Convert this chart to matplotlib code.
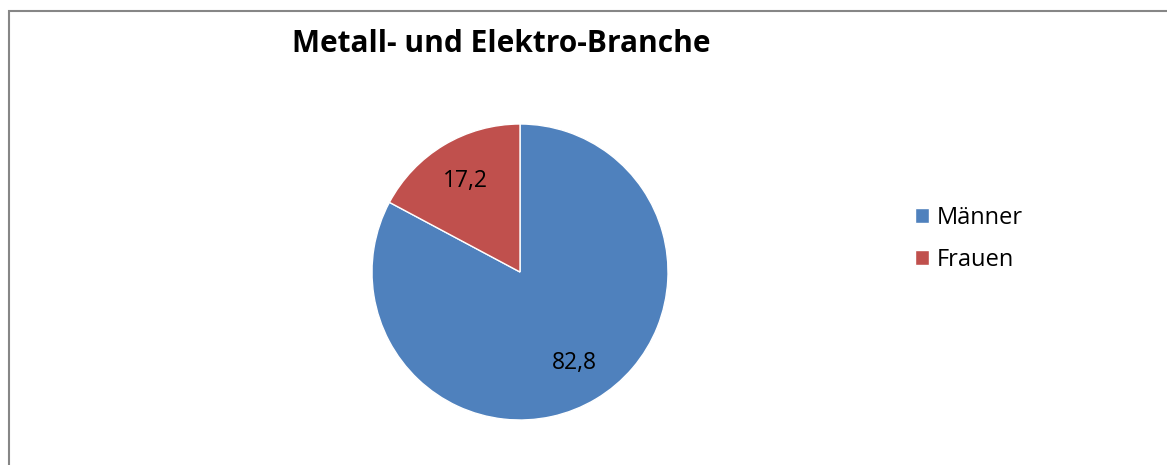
import matplotlib.pyplot as plt
from matplotlib.patches import Rectangle

# Daten
kategorien = ['Männer', 'Frauen']
werte = [82.8, 17.2]
farben = ['#4F81BD', '#C0504D']
titel = 'Metall- und Elektro-Branche'

plt.rcParams['font.family'] = ['Open Sans', 'DejaVu Sans']

fig = plt.figure(figsize=(11.67, 4.65), dpi=100)

# Rahmen um das Diagramm
fig.patches.append(Rectangle((9 / 1167, -0.1), 1.2, (465 - 11) / 465 + 0.1,
                             transform=fig.transFigure, fill=False,
                             edgecolor='#868686', linewidth=1.5))

ax = fig.add_axes([372 / 1167, 45 / 465, 296 / 1167, 296 / 465])
wedges, texts, autotexts = ax.pie(
    werte, colors=farben, startangle=90, counterclock=False,
    wedgeprops=dict(edgecolor='white', linewidth=1),
    autopct=lambda p: f'{p:.1f}'.replace('.', ','), pctdistance=0.72,
    textprops=dict(fontsize=16.5, color='black'))
ax.set_xlim(-1, 1)
ax.set_ylim(-1, 1)
ax.set_aspect('equal')

fig.text(501 / 1167, 1 - 44 / 465, titel, ha='center', va='center',
         fontsize=21.5, fontweight='bold')

fig.legend(wedges, kategorien, loc='center left',
           bbox_to_anchor=(894 / 1167, 1 - 239 / 465), frameon=False,
           fontsize=17, handlelength=0.6, handleheight=0.6,
           handletextpad=0.3, labelspacing=0.75)

fig.savefig('out.png', dpi=100)
